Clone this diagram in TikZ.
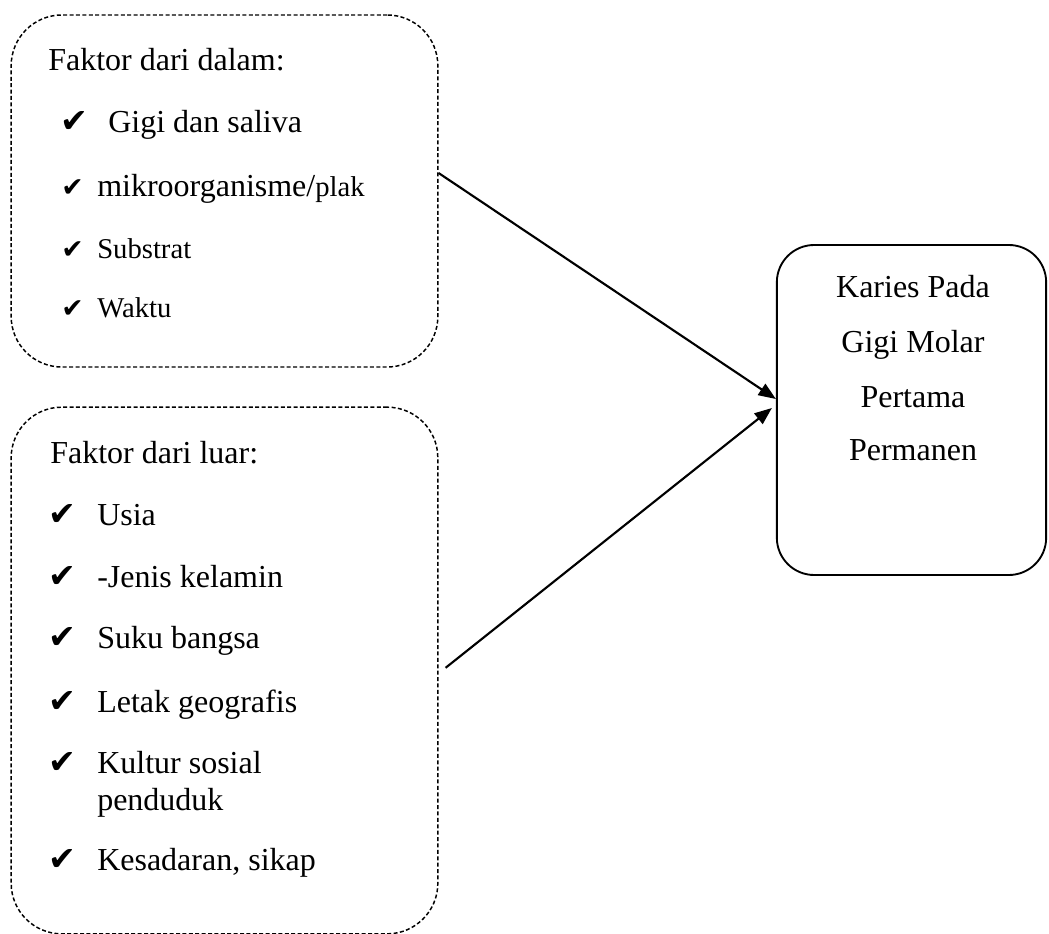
\documentclass[tikz,border=0pt]{standalone}
\usepackage{fontspec}
\setmainfont{Liberation Serif}
\newfontfamily\checkfont{DejaVu Sans}
\usetikzlibrary{arrows.meta}

\begin{document}
\begin{tikzpicture}[x=0.75pt,y=-0.75pt,
  dashbox/.style={draw, dashed, dash pattern=on 3pt off 1.8pt, line width=1.1pt, rounded corners=38pt, inner sep=0pt},
  solidbox/.style={draw, line width=1.4pt, rounded corners=28pt, inner sep=0pt},
  txt/.style={anchor=base west, inner sep=0pt, font=\fontsize{24}{28}\selectfont},
  smalltxt/.style={anchor=base west, inner sep=0pt, font=\fontsize{21.5}{26}\selectfont},
  midtxt/.style={anchor=base, inner sep=0pt, font=\fontsize{24}{28}\selectfont},
  bigtick/.style={anchor=base west, inner sep=0pt, font=\checkfont\fontsize{25}{28}\selectfont},
  smalltick/.style={anchor=base west, inner sep=0pt, font=\checkfont\fontsize{20}{24}\selectfont},
  link/.style={-{Triangle[length=13pt,width=10pt]}, line width=1.6pt}]
\useasboundingbox (0,0) rectangle (1049,934);

% boxes
\node[dashbox, minimum width=320pt, minimum height=264pt] (dalam) at (224.5,191) {};
\node[dashbox, minimum width=320pt, minimum height=395pt] (luar) at (224.5,670.5) {};
\node[solidbox, minimum width=202pt, minimum height=247.5pt] (karies) at (911.5,410) {};

% faktor dari dalam
\node[txt] (d0) at (48,71) {Faktor dari dalam:};
\node[bigtick] (t1) at (60,133) {✔};
\node[txt] (d1) at (108,133) {Gigi dan saliva};
\node[smalltick] (t2) at (61,197) {✔};
\node[txt] (d2) at (97,197) {mikroorganisme/{\fontsize{21.5}{26}\selectfont plak}};
\node[smalltick] (t3) at (61,258) {✔};
\node[smalltxt] (d3) at (97,258) {Substrat};
\node[smalltick] (t4) at (61,317) {✔};
\node[smalltxt] (d4) at (97,317) {Waktu};

% faktor dari luar
\node[txt] (l0) at (50,463) {Faktor dari luar:};
\node[bigtick] (u1) at (48,525) {✔};
\node[txt] (l1) at (97,525) {Usia};
\node[bigtick] (u2) at (48,587) {✔};
\node[txt] (l2) at (97,587) {-Jenis kelamin};
\node[bigtick] (u3) at (48,648) {✔};
\node[txt] (l3) at (97,648) {Suku bangsa};
\node[bigtick] (u4) at (48,712) {✔};
\node[txt] (l4) at (97,712) {Letak geografis};
\node[bigtick] (u5) at (48,773) {✔};
\node[txt] (l5) at (97,773) {Kultur sosial};
\node[txt] (l6) at (97,810) {penduduk};
\node[bigtick] (u7) at (48,870) {✔};
\node[txt] (l7) at (97,870) {Kesadaran, sikap};

% karies
\node[midtxt] (k1) at (913,297) {Karies Pada};
\node[midtxt] (k2) at (913,352) {Gigi Molar};
\node[midtxt] (k3) at (913,407) {Pertama};
\node[midtxt] (k4) at (913,460) {Permanen};

\draw[link] ([yshift=13.5pt]dalam.east) -- ([yshift=8.25pt]karies.west);
\draw[link] ([xshift=5.25pt,yshift=2pt]luar.east) -- ([xshift=-3pt,yshift=1.5pt]karies.west);
\end{tikzpicture}
\end{document}
